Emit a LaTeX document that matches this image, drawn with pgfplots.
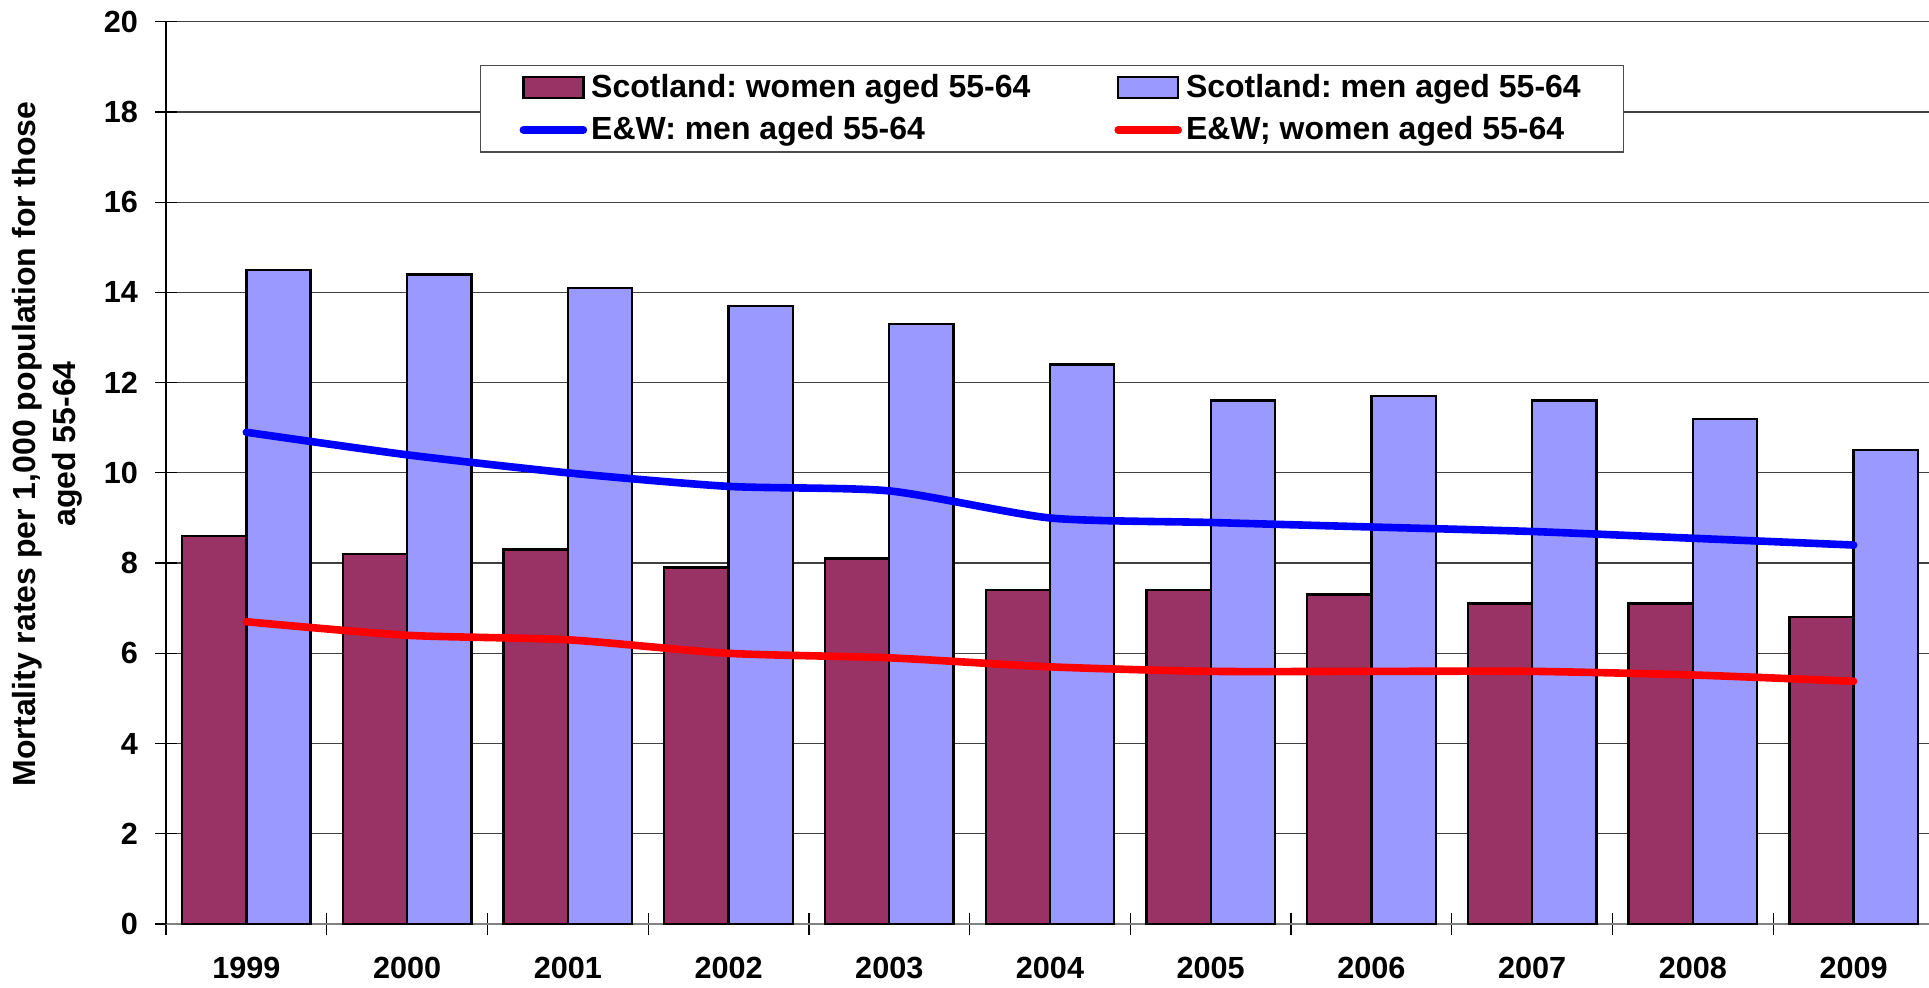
\documentclass[border=0pt]{standalone}
\usepackage{fontspec}
\setmainfont{Liberation Sans}
\usepackage{pgfplots}
\pgfplotsset{compat=1.18}
\definecolor{scowomen}{RGB}{153,51,102}
\definecolor{scomen}{RGB}{153,153,255}
\definecolor{ewmen}{RGB}{0,0,255}
\definecolor{ewwomen}{RGB}{255,0,0}
\newcommand{\chartfont}{\fontsize{15.3}{19}\selectfont\bfseries}
\newcommand{\labelfont}{\fontsize{16}{20}\selectfont\bfseries\frenchspacing}

\begin{document}
\begin{tikzpicture}
\begin{axis}[
    name=ax, at={(0,0)}, anchor=south west,
    scale only axis, width=884pt, height=451.15pt,
    xmin=-0.5, xmax=10.5, ymin=0, ymax=20,
    ytick={0,2,...,20},
    xtick={-0.5,0.5,...,10.5}, xticklabels={},
    extra x ticks={0,1,...,10},
    extra x tick labels={1999,2000,2001,2002,2003,2004,2005,2006,2007,2008,2009},
    extra x tick style={tick style={draw=none}},
    axis x line=bottom, axis y line=left, axis line style={-},
    x axis line style={draw=gray, line width=0.7pt},
    y axis line style={draw=black, line width=0.6pt},
    ymajorgrids, grid style={black!75, line width=0.6pt},
    tick align=center, major tick length=11pt,
    tick style={black, line width=0.6pt},
    tick label style={font=\chartfont},
    yticklabel style={xshift=-5pt},
    xticklabel style={yshift=-7.5pt},
    /pgf/number format/assume math mode=true,
    ylabel={Mortality rates per 1,000 population for those\\aged 55-64},
    ylabel style={font=\labelfont, align=center, at={(axis description cs:-0.067,0.532)}, anchor=center},
    legend columns=2,
    legend cell align=left,
    legend style={at={(rel axis cs:0.1776,0.952)}, anchor=north west,
        draw=black!70, line width=0.6pt, fill=white, font=\labelfont,
        inner xsep=19.5pt, inner ysep=2.5pt, row sep=4pt,
        /tikz/every even column/.append style={column sep=40pt}},
]

% Scotland: women aged 55-64
\addplot[ybar, bar width=0.4, bar shift=-0.2, fill=scowomen, draw=black, line width=1.2pt,
    legend image code/.code={\draw[fill=scowomen, draw=black, line width=1.2pt] (0pt,-5.25pt) rectangle (30pt,5.25pt);}]
    coordinates {(0,8.6) (1,8.2) (2,8.3) (3,7.9) (4,8.1) (5,7.4) (6,7.4) (7,7.3) (8,7.1) (9,7.1) (10,6.8)};
\addlegendentry{Scotland: women aged 55-64}

% Scotland: men aged 55-64
\addplot[ybar, bar width=0.4, bar shift=0.2, fill=scomen, draw=black, line width=1.2pt,
    legend image code/.code={\draw[fill=scomen, draw=black, line width=1.2pt] (0pt,-5.25pt) rectangle (30pt,5.25pt);}]
    coordinates {(0,14.5) (1,14.4) (2,14.1) (3,13.7) (4,13.3) (5,12.4) (6,11.6) (7,11.7) (8,11.6) (9,11.2) (10,10.5)};
\addlegendentry{Scotland: men aged 55-64}

% E&W: men
\addplot[ewmen, line width=3.8pt, line cap=round, smooth, tension=0.4, no marks,
    legend image code/.code={\draw[ewmen, line width=3.8pt, line cap=round] (0pt,0pt) -- (30pt,0pt);}]
    coordinates {(0,10.9) (1,10.4) (2,10.0) (3,9.7) (4,9.6) (5,9.0) (6,8.9) (7,8.8) (8,8.7) (9,8.55) (10,8.4)};
\addlegendentry{E\&W: men aged 55-64}

% E&W: women
\addplot[ewwomen, line width=3.8pt, line cap=round, smooth, tension=0.4, no marks,
    legend image code/.code={\draw[ewwomen, line width=3.8pt, line cap=round] (0pt,0pt) -- (30pt,0pt);}]
    coordinates {(0,6.7) (1,6.4) (2,6.3) (3,6.0) (4,5.9) (5,5.7) (6,5.6) (7,5.6) (8,5.6) (9,5.52) (10,5.38)};
\addlegendentry{E\&W; women aged 55-64}

\end{axis}
\pgfresetboundingbox
\path[use as bounding box] ([xshift=-83pt,yshift=-31.5pt]ax.south west) rectangle ([xshift=881.5pt,yshift=462pt]ax.south west);
\end{tikzpicture}
\end{document}
